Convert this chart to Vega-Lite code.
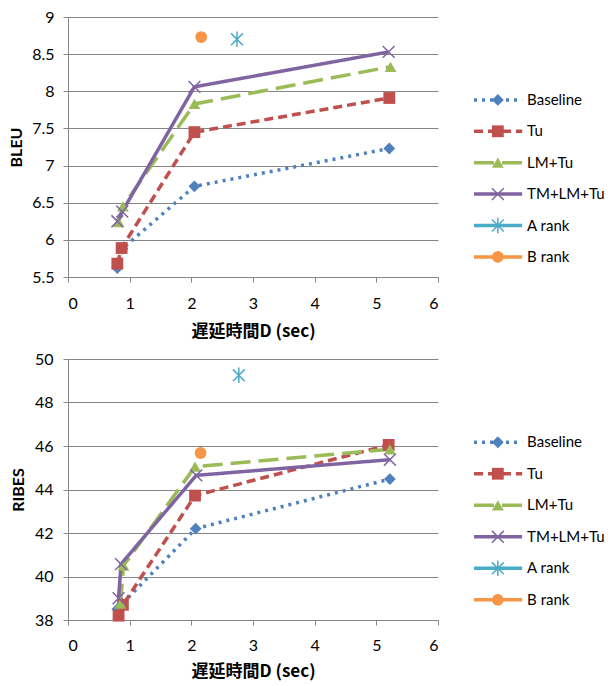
{
  "$schema": "https://vega.github.io/schema/vega-lite/v6.json",
  "padding": {"left": 8, "top": 9, "right": 0, "bottom": 6},
  "background": "white",
  "config": {
    "view": {"stroke": null},
    "font": "Lato",
    "axis": {
      "labelFont": "Lato", "labelFontSize": 16, "labelColor": "#000",
      "domainColor": "#868686", "tickColor": "#868686", "gridColor": "#868686",
      "tickSize": 5, "domainWidth": 1, "gridWidth": 1,
      "titleFont": "Noto Sans CJK JP", "titleFontSize": 17, "titleFontWeight": "bold", "titleColor": "#000"
    }
  },
  "datasets": {
    "bleu": [
      {"series": "Baseline", "x": 0.80, "y": 5.62},
      {"series": "Baseline", "x": 0.88, "y": 5.88},
      {"series": "Baseline", "x": 2.05, "y": 6.72},
      {"series": "Baseline", "x": 5.21, "y": 7.23},
      {"series": "Tu", "x": 0.80, "y": 5.68},
      {"series": "Tu", "x": 0.87, "y": 5.89},
      {"series": "Tu", "x": 2.05, "y": 7.45},
      {"series": "Tu", "x": 5.21, "y": 7.91},
      {"series": "LM+Tu", "x": 0.82, "y": 6.24},
      {"series": "LM+Tu", "x": 0.89, "y": 6.45},
      {"series": "LM+Tu", "x": 2.05, "y": 7.83},
      {"series": "LM+Tu", "x": 5.23, "y": 8.33},
      {"series": "TM+LM+Tu", "x": 0.80, "y": 6.25},
      {"series": "TM+LM+Tu", "x": 0.88, "y": 6.38},
      {"series": "TM+LM+Tu", "x": 2.05, "y": 8.06},
      {"series": "TM+LM+Tu", "x": 5.20, "y": 8.53},
      {"series": "A rank", "x": 2.74, "y": 8.70},
      {"series": "B rank", "x": 2.16, "y": 8.73}
    ],
    "ribes": [
      {"series": "Baseline", "x": 0.80, "y": 38.5},
      {"series": "Baseline", "x": 0.88, "y": 38.75},
      {"series": "Baseline", "x": 2.07, "y": 42.2},
      {"series": "Baseline", "x": 5.22, "y": 44.48},
      {"series": "Tu", "x": 0.82, "y": 38.2},
      {"series": "Tu", "x": 0.89, "y": 38.7},
      {"series": "Tu", "x": 2.06, "y": 43.72},
      {"series": "Tu", "x": 5.20, "y": 46.05},
      {"series": "LM+Tu", "x": 0.85, "y": 38.75},
      {"series": "LM+Tu", "x": 0.90, "y": 40.5},
      {"series": "LM+Tu", "x": 2.06, "y": 45.05},
      {"series": "LM+Tu", "x": 5.22, "y": 45.85},
      {"series": "TM+LM+Tu", "x": 0.82, "y": 39.0},
      {"series": "TM+LM+Tu", "x": 0.86, "y": 40.57},
      {"series": "TM+LM+Tu", "x": 2.08, "y": 44.65},
      {"series": "TM+LM+Tu", "x": 5.22, "y": 45.37},
      {"series": "A rank", "x": 2.77, "y": 49.25},
      {"series": "B rank", "x": 2.15, "y": 45.68}
    ],
    "legend": [
      {"series": "Baseline"},
      {"series": "Tu"},
      {"series": "LM+Tu"},
      {"series": "TM+LM+Tu"},
      {"series": "A rank"},
      {"series": "B rank"}
    ]
  },
  "resolve": {"scale": {"x": "independent", "y": "independent"}},
  "columns": 1,
  "align": "none",
  "spacing": 12,
  "concat": [
    {
      "spacing": 33,
      "resolve": {"scale": {"x": "independent", "y": "independent"}},
      "hconcat": [
        {
          "width": 370, "height": 260,
          "data": {"name": "bleu"},
          "encoding": {
            "x": {"field": "x", "type": "quantitative", "scale": {"domain": [0, 6], "nice": false},
                  "axis": {"values": [0, 1, 2, 3, 4, 5, 6], "grid": false, "title": "遅延時間D (sec)", "labelPadding": 13, "titlePadding": 12}},
            "y": {"field": "y", "type": "quantitative", "scale": {"domain": [5.5, 9], "nice": false, "zero": false},
                  "axis": {"values": [5.5, 6, 6.5, 7, 7.5, 8, 8.5, 9], "format": "~g", "title": "BLEU", "titleFont": "Lato", "titleFontSize": 16, "labelPadding": 9, "titlePadding": 7}},
            "color": {"field": "series", "type": "nominal", "legend": null,
                      "scale": {"domain": ["Baseline", "Tu", "LM+Tu", "TM+LM+Tu", "A rank", "B rank"],
                                "range": ["#4F81BD", "#C0504D", "#9BBB59", "#8064A2", "#4BACC6", "#F79646"]}}
          },
          "layer": [
            {
              "mark": {"type": "line", "strokeWidth": 3.5},
              "encoding": {
                "strokeDash": {"field": "series", "type": "nominal", "legend": null,
                               "scale": {"domain": ["Baseline", "Tu", "LM+Tu", "TM+LM+Tu", "A rank", "B rank"],
                                         "range": [[3, 5], [9, 5], [20, 8], [1, 0], [1, 0], [1, 0]]}}
              }
            },
            {
              "transform": [{"filter": "datum.series != 'TM+LM+Tu' && datum.series != 'A rank'"}],
              "mark": {"type": "point", "filled": true, "size": 140, "opacity": 1},
              "encoding": {
                "shape": {"field": "series", "type": "nominal", "legend": null,
                          "scale": {"domain": ["Baseline", "Tu", "LM+Tu", "TM+LM+Tu", "A rank", "B rank"],
                                    "range": ["diamond", "square", "triangle-up", "M-1,-1L1,1M-1,1L1,-1", "M-1,-1L1,1M-1,1L1,-1M0,-1.3L0,1.3", "circle"]}}
              }
            },
            {
              "transform": [{"filter": "datum.series == 'TM+LM+Tu' || datum.series == 'A rank'"}],
              "mark": {"type": "point", "filled": false, "size": 140, "strokeWidth": 1.5, "opacity": 1},
              "encoding": {
                "shape": {"field": "series", "type": "nominal", "legend": null,
                          "scale": {"domain": ["Baseline", "Tu", "LM+Tu", "TM+LM+Tu", "A rank", "B rank"],
                                    "range": ["diamond", "square", "triangle-up", "M-1,-1L1,1M-1,1L1,-1", "M-1,-1L1,1M-1,1L1,-1M0,-1.3L0,1.3", "circle"]}}
              }
            }
          ]
        },
        {
          "width": 135, "height": 260,
          "data": {"name": "legend"},
          "encoding": {
            "y": {"field": "series", "type": "nominal", "axis": null,
                  "scale": {"type": "point", "padding": 0.64, "align": 0.5,
                            "domain": ["pad1", "pad2", "Baseline", "Tu", "LM+Tu", "TM+LM+Tu", "A rank", "B rank"]}},
            "color": {"field": "series", "type": "nominal", "legend": null,
                      "scale": {"domain": ["Baseline", "Tu", "LM+Tu", "TM+LM+Tu", "A rank", "B rank"],
                                "range": ["#4F81BD", "#C0504D", "#9BBB59", "#8064A2", "#4BACC6", "#F79646"]}}
          },
          "layer": [
            {
              "mark": {"type": "rule", "strokeWidth": 3.5},
              "encoding": {
                "x": {"datum": 0, "type": "quantitative", "scale": {"domain": [0, 3], "nice": false}, "axis": null},
                "x2": {"datum": 1.07},
                "strokeDash": {"field": "series", "type": "nominal", "legend": null,
                               "scale": {"domain": ["Baseline", "Tu", "LM+Tu", "TM+LM+Tu", "A rank", "B rank"],
                                         "range": [[3, 5], [9, 5], [20, 8], [1, 0], [1, 0], [1, 0]]}}
              }
            },
            {
              "transform": [{"filter": "datum.series != 'TM+LM+Tu' && datum.series != 'A rank'"}],
              "mark": {"type": "point", "filled": true, "size": 140, "opacity": 1},
              "encoding": {
                "x": {"datum": 0.53, "type": "quantitative"},
                "shape": {"field": "series", "type": "nominal", "legend": null,
                          "scale": {"domain": ["Baseline", "Tu", "LM+Tu", "TM+LM+Tu", "A rank", "B rank"],
                                    "range": ["diamond", "square", "triangle-up", "M-1,-1L1,1M-1,1L1,-1", "M-1,-1L1,1M-1,1L1,-1M0,-1.3L0,1.3", "circle"]}}
              }
            },
            {
              "transform": [{"filter": "datum.series == 'TM+LM+Tu' || datum.series == 'A rank'"}],
              "mark": {"type": "point", "filled": false, "size": 140, "strokeWidth": 1.5, "opacity": 1},
              "encoding": {
                "x": {"datum": 0.53, "type": "quantitative"},
                "shape": {"field": "series", "type": "nominal", "legend": null,
                          "scale": {"domain": ["Baseline", "Tu", "LM+Tu", "TM+LM+Tu", "A rank", "B rank"],
                                    "range": ["diamond", "square", "triangle-up", "M-1,-1L1,1M-1,1L1,-1", "M-1,-1L1,1M-1,1L1,-1M0,-1.3L0,1.3", "circle"]}}
              }
            },
            {
              "mark": {"type": "text", "align": "left", "baseline": "middle", "font": "Lato", "fontSize": 15},
              "encoding": {
                "x": {"datum": 1.18, "type": "quantitative"},
                "text": {"field": "series", "type": "nominal"},
                "color": {"value": "#000"}
              }
            }
          ]
        }
      ]
    },
    {
      "spacing": 33,
      "resolve": {"scale": {"x": "independent", "y": "independent"}},
      "hconcat": [
        {
          "width": 370, "height": 261,
          "data": {"name": "ribes"},
          "encoding": {
            "x": {"field": "x", "type": "quantitative", "scale": {"domain": [0, 6], "nice": false},
                  "axis": {"values": [0, 1, 2, 3, 4, 5, 6], "grid": false, "title": "遅延時間D (sec)", "labelPadding": 12, "titlePadding": 10}},
            "y": {"field": "y", "type": "quantitative", "scale": {"domain": [38, 50], "nice": false, "zero": false},
                  "axis": {"values": [38, 40, 42, 44, 46, 48, 50], "format": "~g", "title": "RIBES", "titleFont": "Lato", "titleFontSize": 16, "labelPadding": 10, "titlePadding": 8}},
            "color": {"field": "series", "type": "nominal", "legend": null,
                      "scale": {"domain": ["Baseline", "Tu", "LM+Tu", "TM+LM+Tu", "A rank", "B rank"],
                                "range": ["#4F81BD", "#C0504D", "#9BBB59", "#8064A2", "#4BACC6", "#F79646"]}}
          },
          "layer": [
            {
              "mark": {"type": "line", "strokeWidth": 3.5},
              "encoding": {
                "strokeDash": {"field": "series", "type": "nominal", "legend": null,
                               "scale": {"domain": ["Baseline", "Tu", "LM+Tu", "TM+LM+Tu", "A rank", "B rank"],
                                         "range": [[3, 5], [9, 5], [20, 8], [1, 0], [1, 0], [1, 0]]}}
              }
            },
            {
              "transform": [{"filter": "datum.series != 'TM+LM+Tu' && datum.series != 'A rank'"}],
              "mark": {"type": "point", "filled": true, "size": 140, "opacity": 1},
              "encoding": {
                "shape": {"field": "series", "type": "nominal", "legend": null,
                          "scale": {"domain": ["Baseline", "Tu", "LM+Tu", "TM+LM+Tu", "A rank", "B rank"],
                                    "range": ["diamond", "square", "triangle-up", "M-1,-1L1,1M-1,1L1,-1", "M-1,-1L1,1M-1,1L1,-1M0,-1.3L0,1.3", "circle"]}}
              }
            },
            {
              "transform": [{"filter": "datum.series == 'TM+LM+Tu' || datum.series == 'A rank'"}],
              "mark": {"type": "point", "filled": false, "size": 140, "strokeWidth": 1.5, "opacity": 1},
              "encoding": {
                "shape": {"field": "series", "type": "nominal", "legend": null,
                          "scale": {"domain": ["Baseline", "Tu", "LM+Tu", "TM+LM+Tu", "A rank", "B rank"],
                                    "range": ["diamond", "square", "triangle-up", "M-1,-1L1,1M-1,1L1,-1", "M-1,-1L1,1M-1,1L1,-1M0,-1.3L0,1.3", "circle"]}}
              }
            }
          ]
        },
        {
          "width": 135, "height": 261,
          "data": {"name": "legend"},
          "encoding": {
            "y": {"field": "series", "type": "nominal", "axis": null,
                  "scale": {"type": "point", "padding": 0.64, "align": 0.5,
                            "domain": ["pad1", "pad2", "Baseline", "Tu", "LM+Tu", "TM+LM+Tu", "A rank", "B rank"]}},
            "color": {"field": "series", "type": "nominal", "legend": null,
                      "scale": {"domain": ["Baseline", "Tu", "LM+Tu", "TM+LM+Tu", "A rank", "B rank"],
                                "range": ["#4F81BD", "#C0504D", "#9BBB59", "#8064A2", "#4BACC6", "#F79646"]}}
          },
          "layer": [
            {
              "mark": {"type": "rule", "strokeWidth": 3.5},
              "encoding": {
                "x": {"datum": 0, "type": "quantitative", "scale": {"domain": [0, 3], "nice": false}, "axis": null},
                "x2": {"datum": 1.07},
                "strokeDash": {"field": "series", "type": "nominal", "legend": null,
                               "scale": {"domain": ["Baseline", "Tu", "LM+Tu", "TM+LM+Tu", "A rank", "B rank"],
                                         "range": [[3, 5], [9, 5], [20, 8], [1, 0], [1, 0], [1, 0]]}}
              }
            },
            {
              "transform": [{"filter": "datum.series != 'TM+LM+Tu' && datum.series != 'A rank'"}],
              "mark": {"type": "point", "filled": true, "size": 140, "opacity": 1},
              "encoding": {
                "x": {"datum": 0.53, "type": "quantitative"},
                "shape": {"field": "series", "type": "nominal", "legend": null,
                          "scale": {"domain": ["Baseline", "Tu", "LM+Tu", "TM+LM+Tu", "A rank", "B rank"],
                                    "range": ["diamond", "square", "triangle-up", "M-1,-1L1,1M-1,1L1,-1", "M-1,-1L1,1M-1,1L1,-1M0,-1.3L0,1.3", "circle"]}}
              }
            },
            {
              "transform": [{"filter": "datum.series == 'TM+LM+Tu' || datum.series == 'A rank'"}],
              "mark": {"type": "point", "filled": false, "size": 140, "strokeWidth": 1.5, "opacity": 1},
              "encoding": {
                "x": {"datum": 0.53, "type": "quantitative"},
                "shape": {"field": "series", "type": "nominal", "legend": null,
                          "scale": {"domain": ["Baseline", "Tu", "LM+Tu", "TM+LM+Tu", "A rank", "B rank"],
                                    "range": ["diamond", "square", "triangle-up", "M-1,-1L1,1M-1,1L1,-1", "M-1,-1L1,1M-1,1L1,-1M0,-1.3L0,1.3", "circle"]}}
              }
            },
            {
              "mark": {"type": "text", "align": "left", "baseline": "middle", "font": "Lato", "fontSize": 15},
              "encoding": {
                "x": {"datum": 1.18, "type": "quantitative"},
                "text": {"field": "series", "type": "nominal"},
                "color": {"value": "#000"}
              }
            }
          ]
        }
      ]
    }
  ]
}
